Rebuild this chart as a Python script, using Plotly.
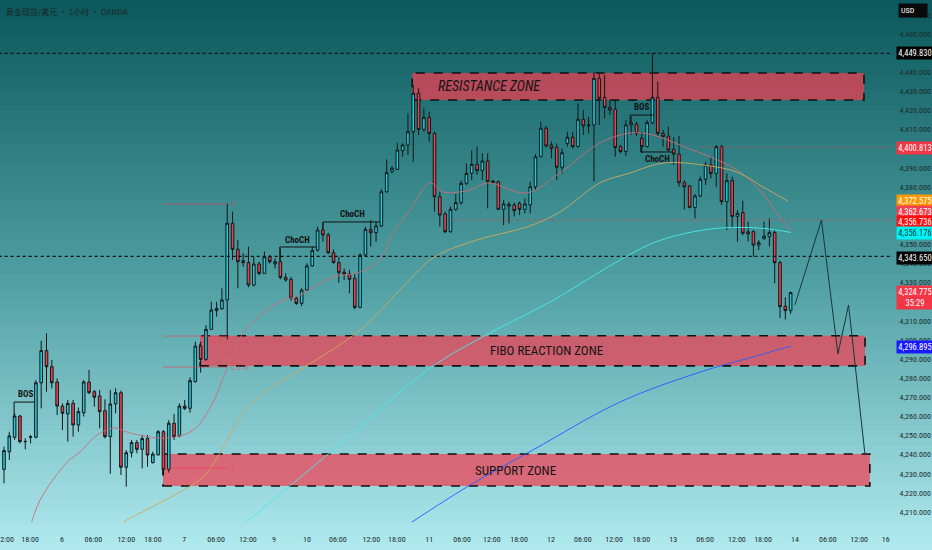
import plotly.graph_objects as go

# Свечи (1ч), индекс свечи по оси X
opens = [4232.3, 4241.5, 4249.1, 4260.2, 4246.8, 4249.1, 4249.1, 4277.6, 4294.4, 4286.0,
         4278.0, 4265.4, 4261.3, 4266.8, 4255.5, 4261.9, 4278.0, 4272.9, 4270.7, 4263.0,
         4249.4, 4266.5, 4272.4, 4233.4, 4241.0, 4246.3, 4242.8, 4248.5, 4235.8, 4239.8,
         4252.0, 4232.3, 4256.4, 4249.8, 4265.4, 4264.2, 4278.2, 4296.8, 4289.8, 4305.5,
         4315.3, 4316.2, 4320.9, 4361.0, 4347.4, 4341.4, 4340.4, 4328.7, 4339.7, 4334.8,
         4343.5, 4339.7, 4340.9, 4332.7, 4331.7, 4321.8, 4319.1, 4326.1, 4338.7, 4347.0,
         4357.5, 4354.9, 4345.6, 4340.4, 4335.5, 4334.5, 4332.2, 4317.0, 4344.4, 4357.8,
         4356.1, 4359.6, 4377.5, 4388.0, 4389.2, 4399.0, 4401.9, 4408.9, 4429.0, 4410.1,
         4416.4, 4408.0, 4374.9, 4365.9, 4356.6, 4368.3, 4371.8, 4381.9, 4387.1, 4391.8,
         4388.5, 4393.6, 4383.1, 4382.8, 4368.3, 4370.0, 4370.6, 4371.4, 4368.3, 4370.6,
         4380.1, 4395.8, 4410.7, 4401.9, 4400.7, 4390.3, 4402.8, 4406.0, 4401.1, 4415.4,
         4411.9, 4412.4, 4436.8, 4426.9, 4421.6, 4420.6, 4401.1, 4398.5, 4412.4, 4412.9,
         4405.4, 4401.1, 4413.6, 4426.9, 4408.0, 4406.6, 4399.7, 4397.2, 4382.2, 4380.5,
         4369.3, 4375.3, 4384.0, 4391.5, 4387.1, 4401.1, 4372.3, 4383.3, 4364.5, 4366.6,
         4356.6, 4356.6, 4349.6, 4352.9, 4354.0, 4356.1, 4340.4, 4317.7, 4315.3]
highs = [4244.2, 4252.0, 4261.6, 4260.7, 4248.5, 4250.3, 4279.0, 4299.6, 4303.4, 4289.5,
         4279.9, 4266.8, 4268.6, 4268.6, 4264.7, 4279.0, 4284.3, 4273.8, 4273.8, 4268.9,
         4273.8, 4274.7, 4273.5, 4242.4, 4247.7, 4247.7, 4250.3, 4250.3, 4241.6, 4252.9,
         4252.9, 4258.1, 4261.3, 4266.8, 4268.6, 4280.4, 4299.1, 4299.1, 4307.8, 4320.0,
         4320.0, 4327.0, 4371.4, 4367.1, 4352.3, 4345.3, 4348.8, 4343.5, 4340.9, 4346.2,
         4344.4, 4342.7, 4347.9, 4334.8, 4333.1, 4323.0, 4327.0, 4340.0, 4348.8, 4359.2,
         4361.3, 4356.1, 4347.4, 4343.5, 4337.4, 4336.6, 4334.8, 4345.3, 4359.2, 4362.7,
         4361.8, 4378.8, 4394.4, 4391.0, 4403.2, 4402.8, 4418.5, 4433.3, 4431.6, 4421.1,
         4419.4, 4408.9, 4377.5, 4367.1, 4369.7, 4376.3, 4383.3, 4392.4, 4399.3, 4401.1,
         4397.6, 4397.6, 4383.6, 4383.3, 4373.2, 4372.3, 4371.8, 4372.3, 4374.0, 4382.8,
         4397.2, 4414.1, 4411.9, 4403.7, 4402.8, 4400.2, 4408.9, 4408.9, 4423.7, 4420.2,
         4416.7, 4440.3, 4439.4, 4438.6, 4425.5, 4425.5, 4402.0, 4415.0, 4416.8, 4414.1,
         4408.9, 4415.0, 4449.8, 4435.1, 4409.8, 4411.5, 4405.9, 4406.6, 4383.6, 4381.0,
         4376.3, 4385.4, 4393.2, 4395.8, 4401.9, 4401.9, 4387.1, 4385.4, 4367.9, 4372.8,
         4361.8, 4357.5, 4352.2, 4361.8, 4363.6, 4357.5, 4341.4, 4322.3, 4325.2]
lows = [4225.0, 4237.2, 4247.7, 4245.9, 4242.8, 4245.9, 4248.5, 4264.2, 4272.9, 4274.7,
        4260.7, 4252.9, 4246.8, 4249.4, 4252.0, 4259.9, 4271.7, 4265.1, 4253.8, 4248.5,
        4229.9, 4261.6, 4229.4, 4223.3, 4238.6, 4240.7, 4232.8, 4233.7, 4235.4, 4239.8,
        4228.8, 4230.6, 4247.7, 4249.1, 4263.3, 4262.0, 4277.6, 4282.9, 4289.1, 4305.2,
        4312.2, 4316.0, 4300.3, 4341.8, 4327.0, 4338.3, 4327.5, 4327.9, 4333.9, 4334.5,
        4340.0, 4337.4, 4331.7, 4330.5, 4320.5, 4318.3, 4317.7, 4325.8, 4338.3, 4346.2,
        4351.4, 4344.9, 4340.0, 4329.9, 4331.3, 4324.4, 4316.0, 4316.5, 4343.5, 4348.8,
        4351.4, 4359.2, 4377.0, 4387.1, 4388.9, 4395.8, 4396.7, 4393.2, 4407.2, 4408.9,
        4403.7, 4367.1, 4359.2, 4355.8, 4356.1, 4367.6, 4370.6, 4381.0, 4383.6, 4386.3,
        4383.6, 4368.8, 4381.9, 4367.9, 4360.1, 4361.0, 4364.5, 4365.3, 4366.2, 4366.2,
        4378.4, 4395.5, 4400.7, 4395.0, 4383.6, 4387.1, 4401.1, 4400.2, 4400.7, 4407.2,
        4408.0, 4382.8, 4412.4, 4415.9, 4417.6, 4395.8, 4397.6, 4396.2, 4407.2, 4406.6,
        4397.6, 4400.7, 4412.9, 4406.6, 4401.1, 4398.5, 4391.5, 4380.1, 4368.3, 4368.8,
        4363.6, 4374.6, 4381.0, 4384.5, 4380.1, 4370.6, 4357.5, 4358.4, 4351.4, 4354.9,
        4351.4, 4343.5, 4347.0, 4352.6, 4348.8, 4329.6, 4311.3, 4310.7, 4313.6]
closes = [4242.1, 4249.8, 4260.2, 4246.8, 4246.9, 4249.3, 4277.6, 4294.4, 4286.0, 4277.6,
          4265.4, 4261.6, 4266.8, 4255.5, 4262.5, 4278.0, 4272.4, 4270.0, 4262.5, 4249.4,
          4266.5, 4272.4, 4233.4, 4241.0, 4246.3, 4242.8, 4248.4, 4239.8, 4240.3, 4252.0,
          4232.3, 4256.4, 4249.4, 4265.4, 4264.2, 4278.7, 4296.8, 4289.8, 4305.5, 4315.6,
          4316.5, 4320.9, 4361.0, 4347.4, 4340.9, 4340.4, 4328.7, 4339.7, 4334.8, 4343.5,
          4340.9, 4340.9, 4332.7, 4331.3, 4321.8, 4319.1, 4326.1, 4338.7, 4346.7, 4357.5,
          4354.9, 4345.6, 4340.4, 4335.2, 4334.5, 4331.7, 4317.0, 4344.4, 4357.8, 4356.1,
          4359.6, 4377.5, 4387.5, 4389.8, 4399.3, 4401.9, 4408.9, 4429.0, 4410.1, 4416.4,
          4408.0, 4374.9, 4365.3, 4356.6, 4368.3, 4371.8, 4381.9, 4387.1, 4391.8, 4388.5,
          4393.6, 4382.8, 4382.4, 4368.3, 4371.1, 4370.9, 4367.6, 4368.3, 4371.1, 4380.1,
          4395.8, 4410.7, 4401.4, 4400.2, 4390.3, 4397.9, 4406.0, 4401.1, 4415.4, 4411.9,
          4412.4, 4436.8, 4426.4, 4421.6, 4420.2, 4400.7, 4398.5, 4412.4, 4413.6, 4408.0,
          4401.1, 4413.6, 4426.9, 4408.0, 4406.3, 4399.3, 4397.2, 4382.2, 4380.1, 4369.3,
          4375.3, 4384.0, 4391.5, 4387.1, 4401.1, 4372.3, 4383.3, 4364.5, 4366.2, 4355.8,
          4355.4, 4349.6, 4350.9, 4354.3, 4356.1, 4340.4, 4317.4, 4315.3, 4324.8]
bar_idx = list(range(len(closes)))

# Скользящие средние (точки)
ma_pink_x = [4.9, 6.8, 11.9, 14.3, 17.5, 20.9, 23.7, 30.7, 35.6, 39.3, 41.6, 45.0, 51.4, 55.7,
             61.9, 66.4, 70.7, 73.2, 76.4, 80.2, 82.6, 87.7, 90.9, 98.4, 104.6, 112.1, 117.8,
             122.1, 128.5, 133.4, 137.9, 142.2, 145.4, 148.1]
ma_pink_y = [4201.6, 4216.3, 4236.2, 4241.4, 4250.3, 4253.9, 4251.3, 4248.7, 4252.9, 4267.0,
             4282.7, 4303.6, 4319.3, 4323.5, 4332.9, 4335.0, 4341.8, 4355.9, 4368.0, 4382.1,
             4377.4, 4378.4, 4382.1, 4376.9, 4387.3, 4403.0, 4408.2, 4407.2, 4400.4, 4395.1,
             4388.9, 4378.4, 4366.4, 4356.736]
ma_tan_x = [19.9, 23.1, 37.4, 40.6, 45.0, 49.5, 55.7, 67.0, 74.5, 80.7, 89.0, 98.4, 104.6,
            112.1, 117.8, 124.0, 131.5, 137.9, 142.8, 147.5]
ma_tan_y = [4200.6, 4205.8, 4228.3, 4240.8, 4261.8, 4273.8, 4284.3, 4305.2, 4326.1, 4342.8,
            4352.3, 4359.1, 4366.9, 4382.1, 4387.3, 4392.5, 4391.5, 4387.8, 4380.0, 4372.575]
ma_cyan_x = [43.8, 61.9, 80.2, 91.4, 102.7, 115.9, 122.1, 128.5, 134.7, 142.2, 148.1]
ma_cyan_y = [4200.6, 4242.4, 4285.3, 4303.6, 4319.8, 4341.8, 4350.7, 4355.9, 4358.5, 4358.5,
             4356.176]
ma_blue_x = [74.5, 87.1, 99.5, 115.9, 131.0, 142.2, 148.1]
ma_blue_y = [4200.6, 4223.1, 4242.4, 4267.5, 4283.2, 4292.1, 4296.895]

# Прогноз движения
path_x = [148.8, 153.8, 156.9, 158.9, 162.0]
path_y = [4318.3, 4362.7, 4292.6, 4318.3, 4239.8]

# Зоны
zone_names = ["<i>RESISTANCE ZONE</i>", "FIBO REACTION ZONE", "SUPPORT ZONE"]
zone_lo = [4425.5, 4286.4, 4223.6]
zone_hi = [4439.6, 4302.2, 4240.3]
zone_x0 = [76.8, 36.9, 29.9]
zone_x1 = [161.8, 162.0, 162.9]
zone_label_x = [91.3, 102.0, 96.3]

# Уровни Фибоначчи
fib_levels = [4371.1, 4302.0, 4285.8, 4233.0]
fib_texts = ["0", "", "0.618", "1"]
fib_x0, fib_x1 = 29.9, 42.0

# Горизонтальные уровни
dot_black = [4449.83, 4343.65]
dot_red = [4400.813, 4362.673]
dot_red_start = [131.0, 84.0]

# Структура рынка
struct_texts = ["BOS", "ChoCH", "ChoCH", "BOS", "ChoCH"]
struct_tx = [4.0, 55.3, 65.5, 120.0, 122.9]
struct_ty = [4271.7, 4352.3, 4365.9, 4421.8, 4394.6]
struct_lines = [
    ([1.9, 1.9, 5.8], [4259.7, 4267.5, 4267.5]),
    ([51.9, 51.9, 58.9], [4341.2, 4348.6, 4348.6]),
    ([60.0, 60.0, 70.7], [4357.5, 4361.7, 4361.7]),
    ([117.8, 117.8, 122.1], [4413.5, 4417.6, 4417.6]),
    ([119.8, 119.8, 125.9], [4400.9, 4398.3, 4398.3]),
]

# Метки цен справа
badge_text = ["4,449.830", "4,400.813", "4,372.575", "4,362.673", "4,356.736", "4,356.176",
              "4,343.650", "4,324.775<br>35:29", "4,296.895"]
badge_bg = ["#000000", "#f23645", "#ff9800", "#f0404f", "#ff1010", "#00f2f2",
            "#000000", "#f23645", "#1a1aff"]
badge_fg = ["white", "white", "white", "white", "white", "#0a3a3a", "white", "white", "white"]
badge_px = [53, 148, 201, 212, 222, 233, 258, 297, 347]

# Подписи оси времени
tick_pos = [0.2, 4.9, 10.9, 16.8, 23.0, 28.0, 33.9, 39.9, 45.9, 50.8, 57.0, 62.8, 69.1, 73.9,
            80.0, 86.2, 91.8, 96.9, 102.9, 108.9, 114.8, 119.9, 125.9, 131.9, 137.9, 142.8,
            148.8, 155.0, 160.9, 165.9]
tick_txt = ["12:00", "18:00", "6", "06:00", "12:00", "18:00", "7", "06:00", "12:00", "9", "10",
            "06:00", "12:00", "18:00", "11", "06:00", "12:00", "18:00", "12", "06:00", "12:00",
            "18:00", "13", "06:00", "12:00", "18:00", "14", "06:00", "12:00", "16"]

W, H = 932, 550
PLOT_H = 522
FONT = "Liberation Sans Narrow, Roboto Condensed, Roboto, sans-serif"

fig = go.Figure()

# Градиентный фон
stops = [(0.0, (10, 88, 92)), (0.5, (78, 158, 162)), (1.0, (176, 234, 240))]
def grad(t):
    for (t0, c0), (t1, c1) in zip(stops[:-1], stops[1:]):
        if t <= t1:
            f = (t - t0) / (t1 - t0)
            return "rgb(%d,%d,%d)" % tuple(round(a + (b - a) * f) for a, b in zip(c0, c1))
    return "rgb(%d,%d,%d)" % stops[-1][1]

n = 110
for k in range(n):
    top = 1 - (k * H / n) / PLOT_H
    bot = 1 - ((k + 1) * H / n + 1) / PLOT_H
    fig.add_shape(type="rect", xref="paper", yref="paper", x0=-0.01, x1=1.06,
                  y0=bot, y1=top, fillcolor=grad((k + 0.5) / n), line_width=0, layer="below")

# Зоны
for name, lo, hi, x0, x1, lx in zip(zone_names, zone_lo, zone_hi, zone_x0, zone_x1, zone_label_x):
    fig.add_shape(type="rect", x0=x0, x1=x1, y0=lo, y1=hi,
                  fillcolor="rgba(242,62,82,0.72)",
                  line=dict(color="#111111", width=1.6, dash="dash"), layer="below")
    fig.add_annotation(x=lx, y=(lo + hi) / 2, text=name, showarrow=False,
                       font=dict(family=FONT, size=14 if "RESIST" in name else 13, color="#151515"))

# Фибо
for lvl, t in zip(fib_levels, fib_texts):
    fig.add_shape(type="line", x0=fib_x0, x1=fib_x1, y0=lvl, y1=lvl,
                  line=dict(color="rgba(242,54,69,0.55)", width=1))
    if t:
        fig.add_annotation(x=fib_x1 + 0.4, y=lvl, text=t, showarrow=False, xanchor="left",
                           font=dict(family=FONT, size=8, color="rgba(242,54,69,0.55)"))

# Пунктирные уровни
for lvl in dot_black:
    fig.add_shape(type="line", xref="x", x0=-1, x1=168, y0=lvl, y1=lvl,
                  line=dict(color="#111111", width=1.2, dash="dot"))
for lvl, st in zip(dot_red, dot_red_start):
    fig.add_shape(type="line", x0=st, x1=168, y0=lvl, y1=lvl,
                  line=dict(color="rgba(242,54,69,0.6)", width=1, dash="dot"))

# Скользящие
for xs, ys, col in [(ma_pink_x, ma_pink_y, "rgba(200,110,120,0.9)"),
                    (ma_tan_x, ma_tan_y, "rgba(205,170,95,0.9)"),
                    (ma_cyan_x, ma_cyan_y, "rgba(70,235,235,0.9)"),
                    (ma_blue_x, ma_blue_y, "rgba(40,90,255,0.9)")]:
    fig.add_trace(go.Scatter(x=xs, y=ys, mode="lines", line=dict(color=col, width=1, shape="spline"),
                             hoverinfo="skip"))

# Свечи
fig.add_trace(go.Candlestick(
    x=bar_idx, open=opens, high=highs, low=lows, close=closes,
    increasing=dict(fillcolor="#22c8d8", line=dict(color="#101818", width=1)),
    decreasing=dict(fillcolor="#e8414f", line=dict(color="#101818", width=1)),
    whiskerwidth=0,
))

# Прогноз
fig.add_trace(go.Scatter(x=path_x, y=path_y, mode="lines",
                         line=dict(color="#173838", width=1), hoverinfo="skip"))

# BOS / ChoCH
for t, tx, ty, (lx, ly) in zip(struct_texts, struct_tx, struct_ty, struct_lines):
    fig.add_trace(go.Scatter(x=lx, y=ly, mode="lines", line=dict(color="#111111", width=1),
                             hoverinfo="skip"))
    fig.add_annotation(x=tx, y=ty, text=t, showarrow=False,
                       font=dict(family=FONT, size=9, color="#111111", weight="bold"))

# Метки цен
for t, bg, fg, py in zip(badge_text, badge_bg, badge_fg, badge_px):
    fig.add_annotation(xref="paper", yref="paper", x=896 / 893, y=1 - py / PLOT_H,
                       xanchor="left", yanchor="middle", text=t, showarrow=False,
                       bgcolor=bg, borderpad=1, width=34, align="center",
                       font=dict(family=FONT, size=8.5, color=fg))
fig.add_annotation(xref="paper", yref="paper", x=898 / 893, y=1 - 11 / PLOT_H,
                   xanchor="left", yanchor="middle", text="USD", showarrow=False,
                   bgcolor="#0a0a0a", borderpad=2, width=24, align="left",
                   font=dict(family=FONT, size=8, color="white"))

# Заголовок
fig.add_annotation(xref="paper", yref="paper", x=0.004, y=1 - 12 / PLOT_H,
                   xanchor="left", yanchor="middle", text="黄金现货/美元 · 1小时 · OANDA",
                   showarrow=False, font=dict(family="Noto Sans CJK SC", size=8, color="#1a2626"))

fig.update_layout(
    width=W, height=H,
    margin=dict(l=0, r=W - 893, t=0, b=H - PLOT_H),
    paper_bgcolor="rgb(90,170,175)", plot_bgcolor="rgba(0,0,0,0)",
    showlegend=False,
    xaxis=dict(range=[-0.75, 167.26], showgrid=False, zeroline=False, showline=False,
               rangeslider=dict(visible=False), tickmode="array", tickvals=tick_pos,
               ticktext=tick_txt, ticks="outside", ticklen=9, tickcolor="rgba(0,0,0,0)",
               ticklabeloverflow="allow",
               tickfont=dict(family=FONT, size=8, color="#1e2a2a"), fixedrange=True,
               automargin=False),
    yaxis=dict(side="right", range=[4204.77, 4477.78], dtick=10, tick0=4200,
               tickformat=",.3f", showgrid=False, zeroline=False, showline=False,
               ticks="outside", ticklen=4, tickcolor="rgba(0,0,0,0)",
               tickfont=dict(family=FONT, size=8, color="#1e2a2a"), fixedrange=True,
               automargin=False),
)

fig.write_html("out.html", config={"displayModeBar": False},
               post_script="document.body.style.margin='0';document.body.style.padding='0';")
